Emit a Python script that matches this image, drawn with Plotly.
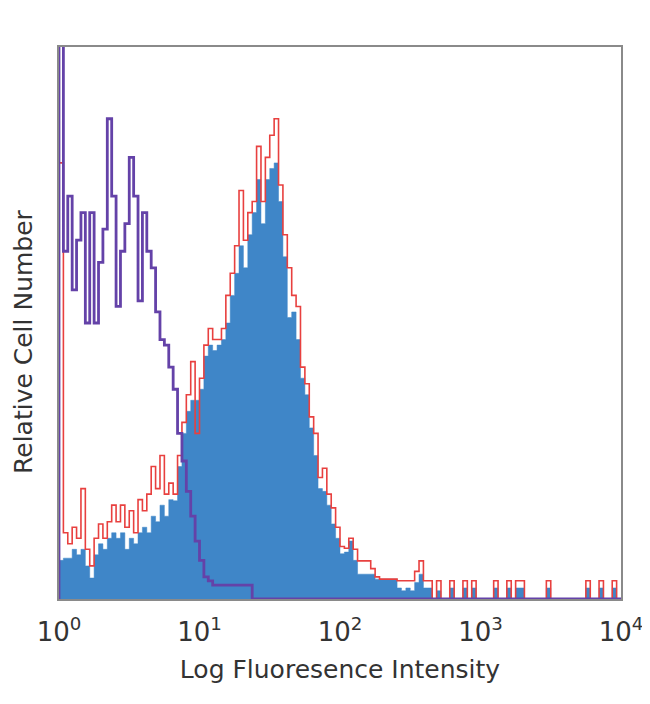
import numpy as np
import plotly.graph_objects as go

# 128 log-spaced channels over 4 decades (10^0 .. 10^4)
n_bins = 128
edges = np.logspace(0, 4, n_bins + 1)

# isotype control (purple outline)
isotype = [110, 63, 73, 56, 65, 70, 50, 70, 50, 61,
           67, 87, 73, 53, 63, 68, 80, 73, 54, 70,
           63, 60, 52, 47, 46, 42, 38, 30, 25, 19.5,
           15, 10.5, 7, 4, 3.3, 2.5, 2.5, 2.5, 2.5, 2.5,
           2.5, 2.5, 2.5, 2.5] + [0] * 84

# stained sample, outline (red)
stained_red = [79, 12, 10, 13, 11, 20, 9, 6, 11, 13.6,
               11, 14, 17, 14, 17, 13, 16, 12, 18, 16,
               19, 24, 20, 26, 19, 21, 19, 26, 32, 37,
               43, 30, 40, 46, 49, 47, 47, 49, 55, 59,
               64, 74, 65, 70, 72, 82, 72, 80, 84, 87,
               75, 66, 60, 55, 53, 42, 39, 33, 30, 22,
               23.7, 19, 16.5, 13, 9.5, 9.2, 11, 9, 6.9, 6.9,
               6.9, 5.5, 4, 3.6, 3.6, 3.6, 3.6, 3.3, 3.3, 3.3,
               3.3, 5, 6.9, 3.3, 3.3, 0, 3.3, 0, 0, 3.3,
               0, 0, 3.3, 0, 3.3, 0, 0, 0, 0, 3.3,
               0, 0, 3.3, 0, 3.3, 3.3, 0, 0, 0, 0,
               0, 3.3, 0, 0, 0, 0, 0, 0, 0, 0,
               3.3, 0, 0, 3.3, 0, 0, 3.3, 0]

# stained sample, filled (blue)
stained_blue = [7, 7.4, 7.4, 9, 8, 9, 6, 3.8, 8, 10,
                9, 11, 12, 11, 12, 9, 11, 10, 12, 13,
                12, 15, 14, 17, 15, 18, 17.8, 24, 30, 34,
                36, 36, 38, 44, 46, 45, 46, 47, 50, 55,
                59, 64, 60, 66, 70, 76, 68, 76, 78, 79,
                72, 62, 51, 52, 47, 40, 37, 31, 26, 20,
                19.5, 17, 13.6, 11, 8.2, 8.5, 10.5, 7, 4.5, 4.5,
                4.5, 4.5, 3.6, 3.6, 3.6, 3.6, 3.6, 2, 1.5, 2,
                1.5, 3, 4.5, 2, 2, 0, 1.5, 0, 0, 2,
                0, 0, 2, 0, 2, 0, 0, 0, 0, 2,
                0, 0, 2, 0, 2, 2, 0, 0, 0, 0,
                0, 2, 0, 0, 0, 0, 0, 0, 0, 0,
                2, 0, 0, 2, 0, 0, 2, 0]

tick_vals = [1, 10, 100, 1000, 10000]
tick_text = ["10<sup>0</sup>", "10<sup>1</sup>", "10<sup>2</sup>",
             "10<sup>3</sup>", "10<sup>4</sup>"]


def steps(vals):
    xs = [edges[0]] + list(edges[:-1]) + [edges[-1], edges[-1]]
    ys = [0] + list(vals) + [vals[-1], 0]
    return xs, ys


fig = go.Figure()

x, y = steps(stained_blue)
fig.add_trace(go.Scatter(x=x, y=y, mode="lines", line_shape="hv",
                         line=dict(color="#3f86c8", width=0.5),
                         fill="tozeroy", fillcolor="#3f86c8"))

x, y = steps(stained_red)
fig.add_trace(go.Scatter(x=x, y=y, mode="lines", line_shape="hv",
                         line=dict(color="#e8403f", width=1.6)))

x, y = steps(isotype)
fig.add_trace(go.Scatter(x=x, y=y, mode="lines", line_shape="hv",
                         line=dict(color="#6442a8", width=2.8)))

fig.update_layout(
    width=650, height=704,
    margin=dict(l=51, r=37, t=39, b=113),
    paper_bgcolor="white", plot_bgcolor="white",
    showlegend=False,
    font=dict(family="DejaVu Sans", color="#333333"),
)
fig.update_xaxes(
    type="log", range=[0, 4],
    tickvals=tick_vals, ticktext=tick_text,
    tickfont=dict(size=26),
    ticks="outside", ticklen=9, tickcolor="rgba(0,0,0,0)",
    showgrid=False, zeroline=False, layer="below traces",
    showline=True, mirror=True, linecolor="#8a8a8a", linewidth=2,
    title=dict(text="Log Fluoresence Intensity", font=dict(size=25), standoff=14),
)
fig.update_yaxes(
    range=[0, 100], showticklabels=False, ticks="",
    showgrid=False, zeroline=False, layer="below traces",
    showline=True, mirror=True, linecolor="#8a8a8a", linewidth=2,
)

# y-axis title sits a bit below the plot centre in the reference
fig.add_annotation(text="Relative Cell Number", textangle=-90,
                   xref="paper", yref="paper", x=0, y=0.4656,
                   xanchor="center", yanchor="middle", xshift=-35,
                   borderpad=0, showarrow=False, font=dict(size=25))

fig.write_html("out.html")
